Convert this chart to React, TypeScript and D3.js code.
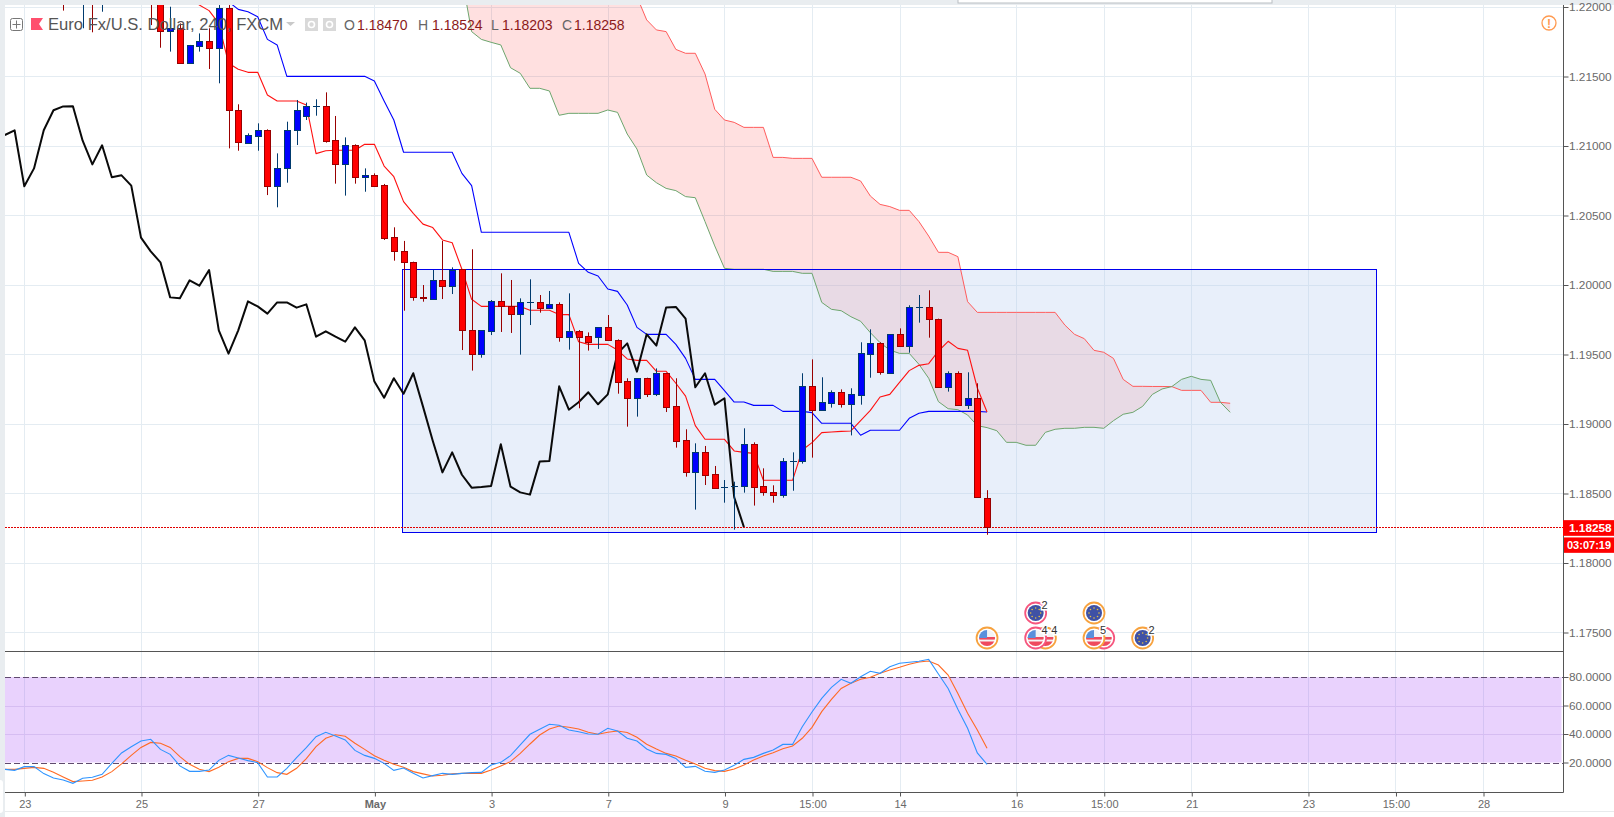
import { useEffect, useRef } from "react";
import * as d3 from "d3";

// Bar index of the first entry of each series. One bar is 240 minutes.
const FIRST_CANDLE = 4;
const FIRST_TENKAN = 17;
const FIRST_KIJUN = 20;
const FIRST_SPAN_RED = 45;
const FIRST_SPAN_GREEN = 45;
const FIRST_OSC = -2;
const CHIKOU_SHIFT = 25;

const opens = [
  1.2230, 1.2225, 1.2215, 1.2232, 1.2216, 1.2228,
  1.2240, 1.2235, 1.2232, 1.2228, 1.2215, 1.2183, 1.21847, 1.21595, 1.21722, 1.21755,
  1.21707, 1.2199, 1.21257, 1.21024, 1.21074, 1.21113, 1.2071, 1.20839, 1.21113, 1.21218,
  1.21285, 1.21285, 1.21041, 1.20868, 1.21005, 1.20775, 1.20789, 1.20717, 1.20343, 1.20245,
  1.20163, 1.19911, 1.19902, 1.20034, 1.19995, 1.20113, 1.19674, 1.19506, 1.19672, 1.19882,
  1.19846, 1.19794, 1.19875, 1.19875, 1.19837, 1.19861, 1.19628, 1.19667, 1.19631, 1.19628,
  1.19695, 1.19602, 1.19307, 1.19189, 1.19329, 1.19218, 1.19365, 1.19127, 1.18883, 1.18652,
  1.18796, 1.18638, 1.18547, 1.18554, 1.18556, 1.18854, 1.18552, 1.18508, 1.18492, 1.18734,
  1.18736, 1.19271, 1.19103, 1.19154, 1.19228, 1.19142, 1.19211, 1.19506, 1.1958, 1.19369,
  1.19645, 1.19564, 1.19842, 1.19844, 1.19758, 1.19264, 1.19365, 1.19139, 1.19185, 1.1847,
];
const highs = [
  1.2240, 1.2240, 1.2238, 1.2240, 1.2235, 1.2245,
  1.2250, 1.2242, 1.2238, 1.2234, 1.2222, 1.22002, 1.21882, 1.21727, 1.2181, 1.21847,
  1.22014, 1.22014, 1.213, 1.21091, 1.21163, 1.2112, 1.20947, 1.21175, 1.21331, 1.21312,
  1.21336, 1.21386, 1.21216, 1.21062, 1.21012, 1.20839, 1.20803, 1.20727, 1.20415, 1.20317,
  1.20168, 1.2, 1.20108, 1.20317, 1.20127, 1.20113, 1.20257, 1.19674, 1.19892, 1.20084,
  1.20036, 1.19904, 1.20041, 1.19928, 1.19957, 1.19875, 1.1994, 1.19676, 1.19659, 1.19695,
  1.19784, 1.19609, 1.19329, 1.19329, 1.19333, 1.194, 1.19365, 1.19329, 1.18962, 1.18861,
  1.18842, 1.18698, 1.18597, 1.18585, 1.18969, 1.18868, 1.18681, 1.18559, 1.18755, 1.18796,
  1.19365, 1.19465, 1.19336, 1.19242, 1.19249, 1.19257, 1.19588, 1.19681, 1.19588, 1.19645,
  1.19688, 1.19854, 1.19928, 1.19962, 1.19758, 1.19379, 1.19379, 1.19372, 1.19293, 1.18524,
];
const lows = [
  1.21974, 1.2210, 1.21847, 1.21818, 1.21966, 1.2215,
  1.2225, 1.2222, 1.2218, 1.2187, 1.21707, 1.21679, 1.21595, 1.21595, 1.21679, 1.21554,
  1.21451, 1.20983, 1.20966, 1.21019, 1.20966, 1.20647, 1.20559, 1.20736, 1.21007, 1.21187,
  1.21218, 1.21024, 1.20729, 1.20643, 1.20729, 1.20671, 1.20707, 1.20324, 1.20175, 1.19815,
  1.19887, 1.1988, 1.19897, 1.19899, 1.19935, 1.19532, 1.19384, 1.19477, 1.1964, 1.19662,
  1.19655, 1.19499, 1.19712, 1.19801, 1.19832, 1.19592, 1.19535, 1.19113, 1.19528, 1.1954,
  1.196, 1.19218, 1.18981, 1.19053, 1.19194, 1.19201, 1.19086, 1.1883, 1.18621, 1.18384,
  1.18561, 1.18542, 1.18434, 1.1824, 1.18506, 1.18413, 1.18484, 1.18434, 1.1847, 1.1852,
  1.18715, 1.18758, 1.19096, 1.19118, 1.19118, 1.18918, 1.19139, 1.19333, 1.19355, 1.19369,
  1.19564, 1.19513, 1.19729, 1.19621, 1.19264, 1.19233, 1.1913, 1.19108, 1.18473, 1.18203,
];
const closes = [
  1.2215, 1.2235, 1.2230, 1.2216, 1.2228, 1.2240,
  1.2235, 1.2232, 1.2228, 1.2222, 1.2183, 1.21847, 1.21595, 1.21727, 1.21755, 1.21707,
  1.2199, 1.21257, 1.21026, 1.21079, 1.21113, 1.2071, 1.20839, 1.21113, 1.21257, 1.21285,
  1.21286, 1.21038, 1.20868, 1.21005, 1.20775, 1.20789, 1.20715, 1.20341, 1.20242, 1.20163,
  1.19911, 1.19904, 1.20034, 1.19995, 1.20108, 1.19674, 1.19506, 1.19674, 1.19882, 1.19846,
  1.19794, 1.19875, 1.19875, 1.19837, 1.19861, 1.19628, 1.19667, 1.19628, 1.19592, 1.19695,
  1.19602, 1.19305, 1.19189, 1.19329, 1.19218, 1.19365, 1.19125, 1.1888, 1.18652, 1.18796,
  1.18635, 1.18542, 1.18547, 1.18554, 1.18854, 1.18549, 1.18508, 1.18492, 1.18731, 1.18734,
  1.19271, 1.19103, 1.19156, 1.19228, 1.19142, 1.19213, 1.19508, 1.1958, 1.19377, 1.19645,
  1.19564, 1.19839, 1.19842, 1.19758, 1.19264, 1.19365, 1.19139, 1.19185, 1.18473, 1.18258,
];

const tenkan = [
  1.2208, 1.22014, 1.21974,
  1.21882, 1.21595, 1.21552, 1.2153, 1.2153, 1.21367, 1.21324, 1.21324, 1.21324, 1.21295,
  1.20945, 1.20966, 1.20969, 1.20969, 1.20969, 1.21012, 1.21012, 1.20856, 1.20779, 1.206,
  1.20516, 1.20438, 1.20413, 1.20324, 1.20304, 1.20113, 1.19897, 1.19846, 1.19846, 1.19846,
  1.19846, 1.19846, 1.19818, 1.19818, 1.19818, 1.19787, 1.19787, 1.19592, 1.19573, 1.19573,
  1.19573, 1.19532, 1.19468, 1.19458, 1.19458, 1.19379, 1.19379, 1.19293, 1.19201, 1.18988,
  1.1889, 1.1889, 1.1889, 1.18806, 1.18796, 1.18789, 1.18595, 1.18595, 1.18595, 1.18595,
  1.18813, 1.18866, 1.18938, 1.18942, 1.18947, 1.1895, 1.19024, 1.19098, 1.19194, 1.19213,
  1.193, 1.19384, 1.19422, 1.19434, 1.19525, 1.19595, 1.19544, 1.1953, 1.19259, 1.19086,
];
const kijun = [
  1.2208, 1.22038, 1.21983, 1.21966, 1.2193, 1.21767, 1.21727, 1.21501, 1.21501, 1.21501,
  1.21501, 1.21501, 1.21501, 1.21501, 1.21501, 1.21501, 1.21468, 1.21324, 1.21187, 1.20955,
  1.20955, 1.20955, 1.20955, 1.20955, 1.20955, 1.20803, 1.20715, 1.20379, 1.20379, 1.20379,
  1.20379, 1.20379, 1.20379, 1.20379, 1.20379, 1.20379, 1.20379, 1.20156, 1.20091, 1.20065,
  1.19971, 1.19954, 1.19856, 1.19695, 1.19645, 1.19645, 1.19645, 1.19573, 1.19472, 1.19321,
  1.19321, 1.19321, 1.1924, 1.19158, 1.19158, 1.19134, 1.19134, 1.19134, 1.19091, 1.19091,
  1.19091, 1.19082, 1.19005, 1.19005, 1.19005, 1.19005, 1.18919, 1.18955, 1.18955, 1.18955,
  1.18955, 1.19041, 1.19077, 1.19091, 1.19091, 1.19091, 1.19091, 1.19091, 1.19091, 1.19086,
];

// The first values of the red span sit above the top of the chart
const spanRed = [
  1.2300, 1.2296, 1.2292, 1.2288, 1.2284,
  1.2280, 1.2276, 1.2272, 1.2268, 1.2264, 1.2260, 1.2256, 1.2252, 1.2248, 1.2244,
  1.2240, 1.2236, 1.2225, 1.22074, 1.21907, 1.21835, 1.21823, 1.21695, 1.21667, 1.21667,
  1.21518, 1.21264, 1.21187, 1.2117, 1.21134, 1.21134, 1.21134, 1.20918, 1.20918, 1.20911,
  1.20911, 1.20911, 1.20775, 1.20775, 1.20775, 1.20775, 1.20748, 1.2064, 1.2058, 1.20564,
  1.20537, 1.20537, 1.20456, 1.20352, 1.20235, 1.20235, 1.20204, 1.1988, 1.19803, 1.19803,
  1.19803, 1.19803, 1.19803, 1.19803, 1.19803, 1.19803, 1.19803, 1.19712, 1.19645, 1.19614,
  1.1953, 1.19516, 1.19472, 1.19321, 1.19271, 1.19271, 1.1927, 1.1927, 1.19269, 1.19242,
  1.19242, 1.19242, 1.19156, 1.19156, 1.19149,
];
const spanGreen = [
  1.2221, 1.21823, 1.21767, 1.21746, 1.21727,
  1.21563, 1.21523, 1.21415, 1.21415, 1.21396, 1.21221, 1.21235, 1.21235, 1.21235, 1.21235,
  1.21259, 1.21242, 1.21086, 1.20978, 1.20791, 1.20736, 1.20695, 1.20679, 1.20636, 1.20628,
  1.20456, 1.20281, 1.2012, 1.20113, 1.20113, 1.20113, 1.20113, 1.20098, 1.20098, 1.20098,
  1.20084, 1.20084, 1.19875, 1.19825, 1.19815, 1.19772, 1.19739, 1.19657, 1.19585, 1.19532,
  1.19508, 1.19508, 1.19429, 1.19329, 1.19161, 1.1911, 1.19103, 1.19065, 1.18988, 1.18974,
  1.18952, 1.18868, 1.18868, 1.18847, 1.18847, 1.1894, 1.18962, 1.18969, 1.18969, 1.18976,
  1.18976, 1.18969, 1.19024, 1.1907, 1.19084, 1.19127, 1.19213, 1.19252, 1.19269, 1.19321,
  1.19343, 1.19321, 1.19314, 1.19156, 1.19084,
];

const stochK = [
  15.2, 14.5, 17.1, 17.1, 12.2, 9.1, 7.7, 5.4, 8.9, 9.6, 11.7, 19.4,
  26.7, 31.1, 35.1, 36.3, 29.2, 25.7, 17.6, 13.8, 13.8, 14.7, 21.5, 25,
  23.2, 21.3, 19.9, 9.8, 9.8, 15.9, 23.4, 30.4, 38.1, 41.2, 38.6, 35.8,
  28.5, 25, 22.9, 19.4, 14.5, 16.1, 12.4, 9.1, 10.8, 12.4, 11.7, 12.4,
  12.9, 13.1, 18.2, 20.1, 24.8, 32.3, 39.8, 43.3, 46.8, 46.1, 42.8, 41.6,
  40, 39.8, 44, 42.1, 37, 35.1, 29.5, 26.4, 25.7, 22.9, 16.6, 17.3,
  13.8, 13.1, 14.7, 18, 22.2, 23.6, 26.4, 28.8, 32.7, 32.7, 45.1, 55.4,
  65, 72.7, 78.4, 75.6, 80.2, 84, 82.6, 87.2, 89.6, 90.3, 91, 92.4,
  82.1, 72, 57.3, 44, 26.7, 18.7,
];
const stochD = [
  15.2, 15.2, 15.9, 16.6, 15.9, 13.1, 9.8, 6.6, 7, 7.5, 9.8, 13.6,
  19, 25, 30.6, 34.1, 33.5, 30.6, 24.1, 18.7, 15.2, 13.6, 16.6, 20.6,
  22.9, 22.9, 20.6, 16.4, 12.9, 11.7, 15.9, 22.7, 31.1, 37, 39.5, 38.4,
  33.5, 29.2, 24.8, 21.5, 18.7, 16.6, 13.6, 12, 10.5, 11, 12, 12.4,
  12.4, 12.4, 14.7, 17.6, 20.6, 26.4, 33, 39.3, 43.5, 45.6, 44.7, 43.5,
  41.2, 39.8, 41.2, 42.1, 41, 37.7, 32.8, 29.5, 26.4, 24.6, 21.5, 19,
  15.9, 14.3, 13.8, 15.5, 18.2, 21.8, 24.6, 26.9, 29.7, 31.6, 37, 44.7,
  55.7, 64.3, 72, 75.6, 78.4, 79.8, 82.6, 84.9, 86.8, 88.9, 90.5, 91.2,
  88.4, 81.4, 68.5, 54.5, 42.8, 30,
];

const priceTicks = [1.22, 1.215, 1.21, 1.205, 1.2, 1.195, 1.19, 1.185, 1.18, 1.175];
const oscTicks = [80, 60, 40, 20];
const dateTicks = [0, 12, 24, 36, 48, 60, 72, 81, 90, 102, 111, 120, 132, 141, 150];
const dateLabels = ["23", "25", "27", "May", "3", "7", "9", "15:00", "14", "16", "15:00", "21", "23", "15:00", "28"];

const lastPrice = 1.18258;
const boxBars = [39, 139];
const boxPrices = [1.20113, 1.18221];

// Economic calendar marks, in drawing order
const eventBars = [99, 104, 105, 104, 110, 111, 110, 115];
const eventRows = [1, 0, 1, 1, 0, 1, 1, 1];
const eventFlags = ["us", "eu", "us", "us", "eu", "us", "us", "eu"];
const eventRings = ["orange", "pink", "orange", "pink", "orange", "pink", "orange", "orange"];
const eventCounts = ["", "2", "4", "4", "", "", "5", "2"];

const WIDTH = 1614;
const HEIGHT = 817;
const UP = "#0000ff";
const UP_EDGE = "#003a6e";
const DOWN = "#ff0000";
const DOWN_EDGE = "#990000";
const FONT = "'Liberation Sans', Arial, sans-serif";

export default function App() {
  const ref = useRef<SVGSVGElement>(null);

  useEffect(() => {
    if (!ref.current) return;
    const svg = d3.select(ref.current);
    svg.selectAll("*").remove();

    const left = 5;
    const top = 5;
    const right = 1563;
    const divider = 651;
    const bottom = 792;

    const x = d3.scaleLinear().domain([0, 150]).range([24.3, 1483]);
    const y = d3.scaleLinear().domain([1.18, 1.22]).range([563, 7]);
    const yOsc = d3.scaleLinear().domain([20, 80]).range([762.5, 677]);

    // Page chrome
    svg.append("rect").attr("width", WIDTH).attr("height", HEIGHT).attr("fill", "#fff");
    svg.append("rect").attr("width", WIDTH).attr("height", top).attr("fill", "#e9edf0");
    svg.append("rect").attr("width", left).attr("height", HEIGHT).attr("fill", "#e9edf0");
    svg.append("line").attr("x1", left).attr("x2", WIDTH).attr("y1", 811.5).attr("y2", 811.5).attr("stroke", "#e8eaec");
    svg.append("rect").attr("x", -4).attr("y", 780).attr("width", 7).attr("height", 33).attr("rx", 3).attr("fill", "#fff");
    svg.append("rect").attr("x", 958).attr("y", -2).attr("width", 314).attr("height", 5).attr("fill", "#fff").attr("stroke", "#b9bec2");

    const defs = svg.append("defs");
    defs.append("clipPath").attr("id", "clip-main").append("rect")
      .attr("x", left).attr("y", top).attr("width", right - left).attr("height", divider - top);
    defs.append("clipPath").attr("id", "clip-osc").append("rect")
      .attr("x", left).attr("y", divider).attr("width", right - left).attr("height", bottom - divider);

    // Grid
    const grid = svg.append("g").attr("stroke", "#e4ecf2").attr("stroke-width", 1);
    priceTicks.forEach((t) => {
      const gy = Math.round(y(t)) + 0.5;
      grid.append("line").attr("x1", left).attr("x2", right).attr("y1", gy).attr("y2", gy);
    });
    dateTicks.forEach((t) => {
      const gx = Math.round(x(t)) + 0.5;
      grid.append("line").attr("x1", gx).attr("x2", gx).attr("y1", top).attr("y2", bottom);
    });

    // Stochastic panel band and grid go under its lines
    const osc = svg.append("g").attr("clip-path", "url(#clip-osc)");
    osc.append("rect")
      .attr("x", left).attr("width", 1561.5 - left)
      .attr("y", yOsc(80)).attr("height", yOsc(20) - yOsc(80))
      .attr("fill", "#9b30f5").attr("fill-opacity", 0.22);
    oscTicks.forEach((t) => {
      const dashed = t === 80 || t === 20;
      osc.append("line")
        .attr("x1", left).attr("x2", right)
        .attr("y1", Math.round(yOsc(t)) + 0.5).attr("y2", Math.round(yOsc(t)) + 0.5)
        .attr("stroke", dashed ? "#5f4a6e" : "#d6bdf2")
        .attr("stroke-width", 1)
        .attr("stroke-dasharray", dashed ? "6 3" : null);
    });
    const oscLine = d3.line<number>().x((_, i) => x(i + FIRST_OSC)).y((d) => yOsc(d));
    osc.append("path").attr("d", oscLine(stochD)).attr("fill", "none").attr("stroke", "#ff6a24").attr("stroke-width", 1.1);
    osc.append("path").attr("d", oscLine(stochK)).attr("fill", "none").attr("stroke", "#2e94ff").attr("stroke-width", 1.1);

    const main = svg.append("g").attr("clip-path", "url(#clip-main)");

    // Ichimoku cloud: pink where the red span is on top, green where the green span is
    const cloudBars = d3.range(FIRST_SPAN_RED, FIRST_SPAN_RED + spanRed.length);
    const red = (bar: number) => spanRed[bar - FIRST_SPAN_RED];
    const green = (bar: number) => spanGreen[bar - FIRST_SPAN_GREEN];
    const cloud = d3.area<number>().x((d) => x(d));
    main.append("path")
      .attr("d", cloud.y0((d) => y(Math.min(red(d), green(d)))).y1((d) => y(red(d)))(cloudBars))
      .attr("fill", "#ff0000").attr("fill-opacity", 0.12);
    main.append("path")
      .attr("d", cloud.y0((d) => y(Math.min(red(d), green(d)))).y1((d) => y(green(d)))(cloudBars))
      .attr("fill", "#008060").attr("fill-opacity", 0.12);

    // Blue range box sits over the cloud and washes it out
    const boxX0 = Math.floor(x(boxBars[0])) - 0.5;
    const boxX1 = Math.round(x(boxBars[1])) + 0.5;
    const boxY0 = Math.round(y(boxPrices[0])) + 0.5;
    const boxY1 = Math.round(y(boxPrices[1])) + 0.5;
    main.append("rect")
      .attr("x", boxX0).attr("width", boxX1 - boxX0)
      .attr("y", boxY0).attr("height", boxY1 - boxY0)
      .attr("fill", "rgb(185,204,241)").attr("fill-opacity", 0.32);

    const seriesLine = (first: number) =>
      d3.line<number>().x((_, i) => x(i + first)).y((d) => y(d));
    const drawLine = (data: number[], first: number, color: string, width: number) =>
      main.append("path")
        .attr("d", seriesLine(first)(data))
        .attr("fill", "none")
        .attr("stroke", color)
        .attr("stroke-width", width)
        .attr("stroke-linejoin", "round");

    drawLine(spanRed, FIRST_SPAN_RED, "#ff5c5c", 1);
    drawLine(spanGreen, FIRST_SPAN_GREEN, "#6da56d", 1);
    main.append("rect")
      .attr("x", boxX0).attr("width", boxX1 - boxX0)
      .attr("y", boxY0).attr("height", boxY1 - boxY0)
      .attr("fill", "none")
      .attr("stroke", "#0000ee").attr("stroke-width", 1);
    drawLine(kijun, FIRST_KIJUN, "#0000ff", 1.1);
    drawLine(tenkan, FIRST_TENKAN, "#ff1010", 1.1);
    // Lagging line: the closes pushed back by 25 bars
    drawLine(closes.slice(23 - FIRST_CANDLE), 23 - CHIKOU_SHIFT, "#0a0a0a", 2);

    // Last price line
    main.append("line")
      .attr("x1", left).attr("x2", right)
      .attr("y1", Math.round(y(lastPrice)) + 0.5).attr("y2", Math.round(y(lastPrice)) + 0.5)
      .attr("stroke", "#e00000").attr("stroke-dasharray", "2 1");

    // Candles
    const candles = main.append("g").selectAll("g").data(opens).join("g");
    candles.each(function (open, i) {
      const g = d3.select(this);
      const close = closes[i];
      const isUp = close >= open;
      const cx = Math.round(x(i + FIRST_CANDLE)) + 0.5;
      const edge = isUp ? UP_EDGE : DOWN_EDGE;
      g.append("line")
        .attr("x1", cx).attr("x2", cx)
        .attr("y1", y(highs[i])).attr("y2", y(lows[i]))
        .attr("stroke", edge);
      const bodyTop = Math.round(y(Math.max(open, close))) + 0.5;
      const bodyBottom = Math.round(y(Math.min(open, close))) + 0.5;
      if (bodyBottom - bodyTop < 1) {
        g.append("line")
          .attr("x1", cx - 3.5).attr("x2", cx + 3.5)
          .attr("y1", bodyTop).attr("y2", bodyTop)
          .attr("stroke", edge);
        return;
      }
      g.append("rect")
        .attr("x", cx - 3).attr("width", 6)
        .attr("y", bodyTop).attr("height", bodyBottom - bodyTop)
        .attr("fill", isUp ? UP : DOWN)
        .attr("stroke", edge);
    });

    // Calendar events
    const rowY = [613, 638];
    const ringColor: Record<string, string> = { orange: "#f7a23e", pink: "#f6567e" };
    eventBars.forEach((bar, i) => {
      const g = svg.append("g")
        .attr("transform", `translate(${x(bar)},${rowY[eventRows[i]]})`);
      const clipId = `event-${i}`;
      defs.append("clipPath").attr("id", clipId).append("circle").attr("r", 8);
      g.append("circle").attr("r", 10.5).attr("fill", "#fff")
        .attr("stroke", ringColor[eventRings[i]]).attr("stroke-width", 1.8);
      const face = g.append("g").attr("clip-path", `url(#${clipId})`);
      if (eventFlags[i] === "eu") {
        face.append("rect").attr("x", -9).attr("y", -9).attr("width", 18).attr("height", 18).attr("fill", "#3f51a5");
        d3.range(8).forEach((k) => {
          const a = (k / 8) * Math.PI * 2;
          face.append("circle")
            .attr("cx", Math.cos(a) * 5).attr("cy", Math.sin(a) * 5)
            .attr("r", 0.8).attr("fill", "#e8c040");
        });
      } else {
        face.append("rect").attr("x", -9).attr("y", -9).attr("width", 18).attr("height", 18).attr("fill", "#f4f4f4");
        [-1, 3.5].forEach((sy) => {
          face.append("rect").attr("x", -9).attr("y", sy).attr("width", 18).attr("height", 2.6).attr("fill", "#ef4a5e");
        });
        face.append("rect").attr("x", -9).attr("y", 6).attr("width", 18).attr("height", 3).attr("fill", "#ef4a5e");
        face.append("rect").attr("x", -9).attr("y", -9).attr("width", 9).attr("height", 9).attr("fill", "#5a90dc");
      }
      if (eventCounts[i]) {
        g.append("text")
          .text(eventCounts[i])
          .attr("x", 9).attr("y", -4)
          .attr("text-anchor", "middle")
          .attr("font-family", FONT).attr("font-size", 11)
          .attr("fill", "#333")
          .attr("stroke", "#fff").attr("stroke-width", 3).attr("paint-order", "stroke");
      }
    });

    // Panel frame
    const frame = svg.append("g").attr("stroke", "#555").attr("stroke-width", 1);
    frame.append("line").attr("x1", left).attr("x2", right + 0.5).attr("y1", divider + 0.5).attr("y2", divider + 0.5);

    // Axes
    const styleAxis = (size: number) => (g: d3.Selection<SVGGElement, unknown, null, undefined>) => {
      g.selectAll(".domain").attr("stroke", "#555");
      g.selectAll(".tick line").attr("stroke", "#555");
      g.selectAll(".tick text")
        .attr("fill", "#6a6a6a")
        .attr("font-family", FONT)
        .attr("font-size", size);
    };
    const axisY = d3.axisRight(y)
      .tickValues(priceTicks)
      .tickFormat((d) => d3.format(".5f")(d as number))
      .tickSize(5)
      .tickSizeOuter(0)
      .tickPadding(0.5);
    svg.append("g")
      .attr("transform", `translate(${right + 0.5},0)`)
      .call(axisY)
      .call(styleAxis(11.8))
      .call((g) => g.select(".domain").remove());
    const axisOsc = d3.axisRight(yOsc)
      .tickValues(oscTicks)
      .tickFormat((d) => d3.format(".4f")(d as number))
      .tickSize(5)
      .tickSizeOuter(0)
      .tickPadding(0.5);
    svg.append("g")
      .attr("transform", `translate(${right + 0.5},0)`)
      .call(axisOsc)
      .call(styleAxis(11.8))
      .call((g) => g.select(".domain").remove());
    frame.append("line").attr("x1", right + 0.5).attr("x2", right + 0.5).attr("y1", top).attr("y2", bottom + 0.5);

    const axisX = d3.axisBottom(x)
      .tickValues(dateTicks)
      .tickFormat((_, i) => dateLabels[i])
      .tickSize(4)
      .tickSizeOuter(0)
      .tickPadding(4);
    svg.append("g")
      .attr("transform", `translate(0.5,${bottom + 0.5})`)
      .call(axisX)
      .call(styleAxis(11))
      .call((g) => g.select(".domain").remove())
      .call((g) =>
        g.selectAll<SVGTextElement, number>(".tick text")
          .attr("font-weight", (_, i) => (dateLabels[i] === "May" ? "bold" : "normal"))
      );
    frame.append("line").attr("x1", left).attr("x2", right + 0.5).attr("y1", bottom + 0.5).attr("y2", bottom + 0.5);

    // Last price and countdown tags
    const tagY = y(lastPrice);
    svg.append("rect").attr("x", right).attr("y", tagY - 7).attr("width", WIDTH - right).attr("height", 15.7).attr("fill", "#ff0000");
    svg.append("rect").attr("x", right + 1).attr("y", tagY + 10.3).attr("width", WIDTH - right).attr("height", 15.4).attr("fill", "#ff0000");
    svg.append("text").text(d3.format(".5f")(lastPrice))
      .attr("x", right + 6).attr("y", tagY + 5)
      .attr("font-family", FONT).attr("font-size", 11.8).attr("font-weight", "bold").attr("fill", "#fff");
    svg.append("text").text("03:07:19")
      .attr("x", right + 4).attr("y", tagY + 22)
      .attr("font-family", FONT).attr("font-size", 11).attr("font-weight", "bold").attr("fill", "#fff");

    // Header legend
    const header = svg.append("g").attr("font-family", FONT);
    header.append("rect").attr("x", 10.5).attr("y", 18.5).attr("width", 12).attr("height", 12)
      .attr("rx", 2).attr("fill", "none").attr("stroke", "#777");
    header.append("path").attr("d", "M12.5 24.5H20.5M16.5 20.5V28.5").attr("stroke", "#777").attr("fill", "none");
    header.append("path").attr("d", "M31 18H43L39 24L43 30H31Z").attr("fill", "#ff4f6d");
    header.append("text").text("Euro Fx/U.S. Dollar, 240, FXCM")
      .attr("x", 48).attr("y", 30)
      .attr("font-size", 16.6).attr("fill", "#555");
    header.append("path").attr("d", "M286 22H295L290.5 26Z").attr("fill", "#c9c9c9");
    [305, 323].forEach((bx) => {
      header.append("rect").attr("x", bx).attr("y", 18).attr("width", 13).attr("height", 13).attr("fill", "#d9d9d9");
      header.append("circle").attr("cx", bx + 6.5).attr("cy", 24.5).attr("r", 3).attr("fill", "none").attr("stroke", "#fff").attr("stroke-width", 1.6);
    });
    const ohlcNames = ["O", "H", "L", "C"];
    const ohlcValues = [opens, highs, lows, closes].map((s) => s[s.length - 1]);
    const ohlcX = [344, 418, 491, 562];
    const ohlcGap = [13, 14, 11, 12];
    ohlcNames.forEach((n, i) => {
      header.append("text").text(n).attr("x", ohlcX[i]).attr("y", 30).attr("font-size", 14).attr("fill", "#666");
      header.append("text").text(d3.format(".5f")(ohlcValues[i]))
        .attr("x", ohlcX[i] + ohlcGap[i]).attr("y", 30)
        .attr("font-size", 14).attr("fill", "#8c1a1a");
    });

    // Alert badge
    svg.append("circle").attr("cx", 1549).attr("cy", 23).attr("r", 7)
      .attr("fill", "#fff").attr("stroke", "#ff9a50").attr("stroke-width", 1.3);
    svg.append("text").text("!")
      .attr("x", 1549).attr("y", 27.5).attr("text-anchor", "middle")
      .attr("font-family", FONT).attr("font-size", 12).attr("font-weight", "bold").attr("fill", "#ff9a50");
  }, []);

  return (
    <svg
      ref={ref}
      width={WIDTH}
      height={HEIGHT}
      viewBox={`0 0 ${WIDTH} ${HEIGHT}`}
      style={{ position: "absolute", left: 0, top: 0, display: "block" }}
    />
  );
}
